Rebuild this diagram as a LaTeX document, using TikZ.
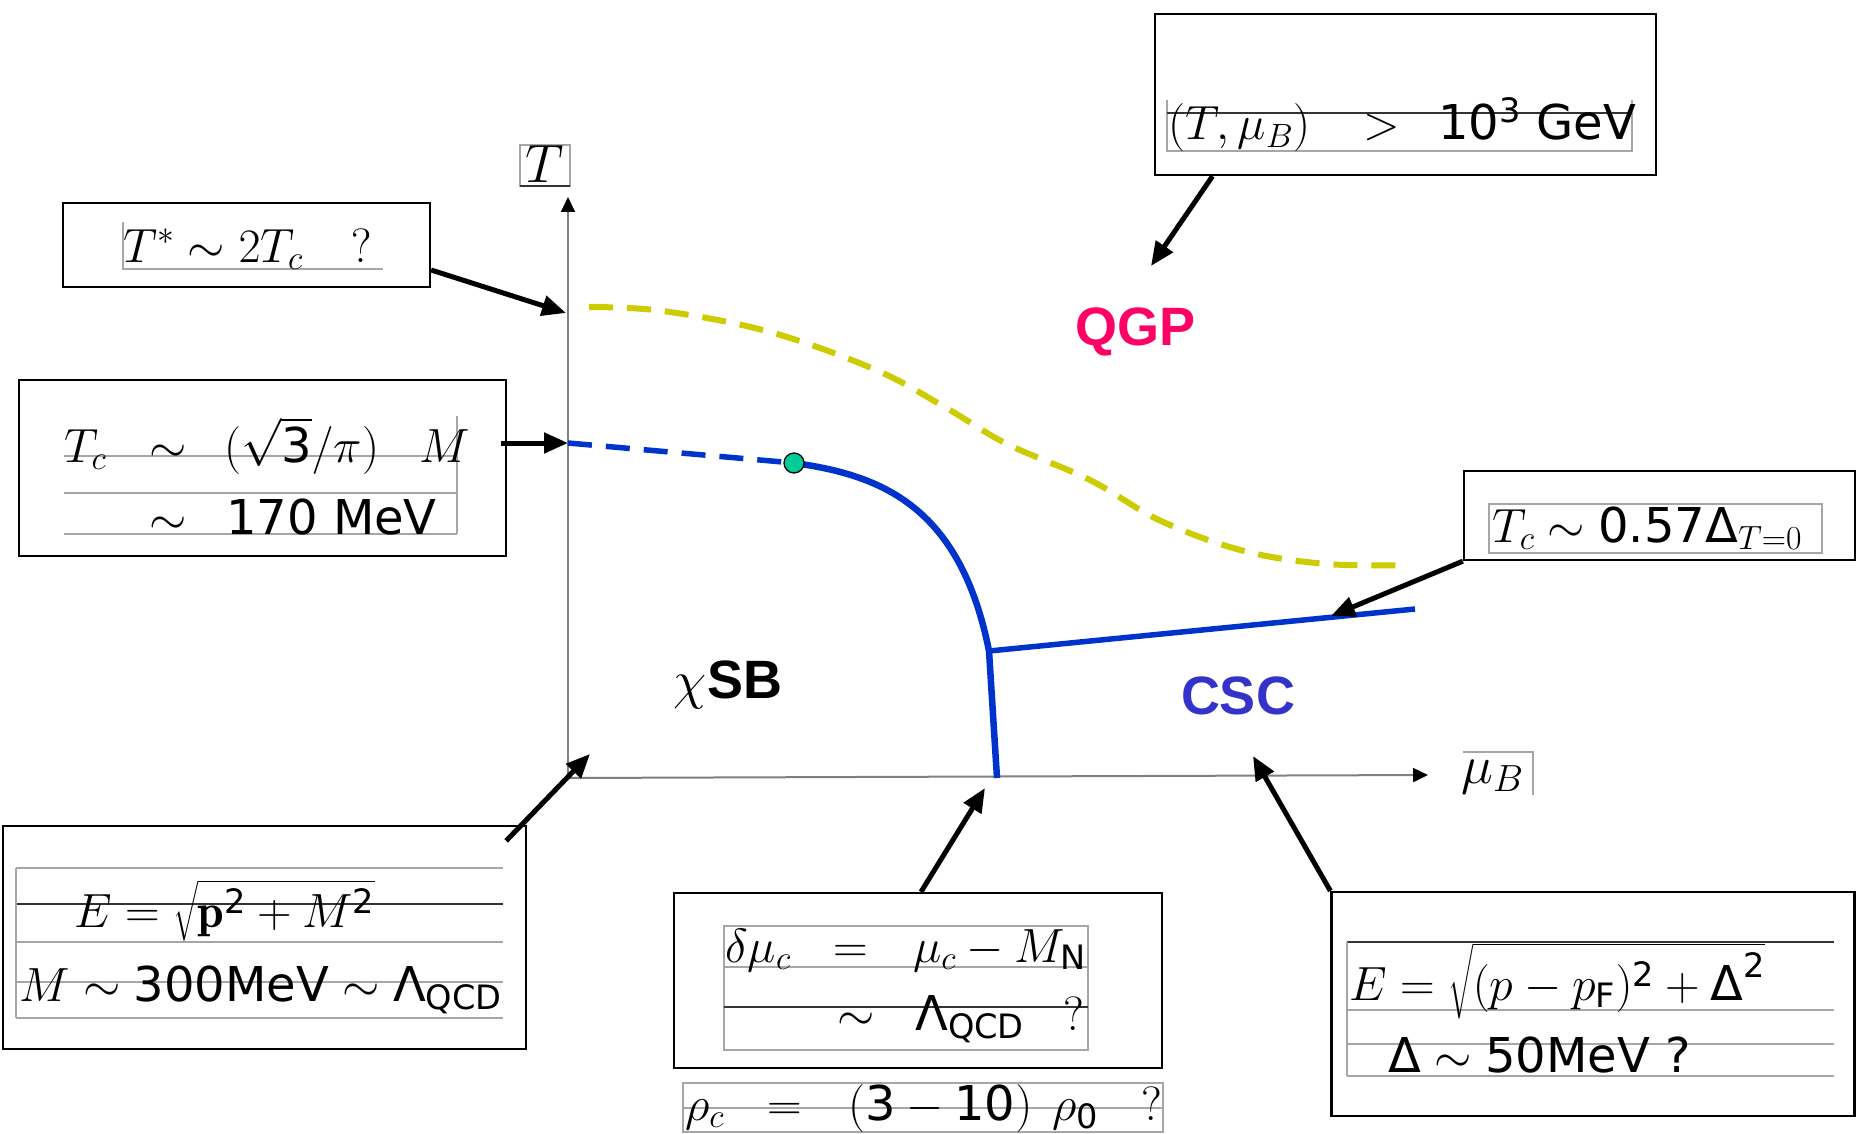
\RequirePackage{fix-cm}
\documentclass[tikz,border=0pt]{standalone}
\usepackage{amsmath}
\usepackage{fontspec}
\setsansfont{DejaVu Sans}
\newfontfamily\regionfam{Liberation Sans}
\usetikzlibrary{arrows.meta}
\definecolor{qgpc}{RGB}{255,0,102}
\definecolor{cscc}{RGB}{51,51,204}
\definecolor{lineblue}{RGB}{0,51,204}
\definecolor{yel}{RGB}{204,204,0}
\definecolor{dotg}{RGB}{0,204,153}
\newcommand\fsz{\fontsize{48}{58}\selectfont}
\newcommand\regfont{\regionfam\bfseries\fontsize{54}{64}\selectfont}
\newcommand\axfont{\fontsize{54}{64}\selectfont}
\begin{document}
\begin{tikzpicture}[x=1pt,y=-1pt,
  box/.style={draw=black, line width=2.3pt, inner sep=0pt},
  txt/.style={inner sep=0pt, font=\fsz, anchor=base west},
  gl/.style={draw=black!35, line width=1.3pt},
  dl/.style={draw=black!80, line width=1.8pt},
  callout/.style={draw=black, line width=5pt, -{Triangle[length=24pt,width=20pt]}},
  axisline/.style={draw=black!50, line width=2pt, -{Triangle[length=15pt,width=14pt,color=black]}},
  region/.style={inner sep=0pt, font=\regfont},
  blueline/.style={draw=lineblue, line width=6.5pt},
  yelline/.style={draw=yel, line width=6pt, dash pattern=on 24pt off 14pt}]
\fill[white] (0,0) rectangle (1857,1134);
\useasboundingbox (0,0) rectangle (1857,1134);

% ---------- axes ----------
\coordinate (origin) at (568,778);
\coordinate (ttop) at (568,197);
\coordinate (mtop) at (1428,775);
\draw[axisline] (origin) -- (ttop);
\draw[axisline] (origin) -- (mtop);
% T label
\draw[gl] (520,145) rectangle (570,186);
\draw[dl] (520,186) -- (570,186);
\node[inner sep=0pt, font=\axfont, anchor=base] (tlab) at (545,183) {$T$};
% mu_B label
\draw[gl] (1463,752) -- (1533,752) -- (1533,795);
\node[inner sep=0pt, font=\axfont, anchor=base west] (mlab) at (1461,783) {$\mu_B$};

% ---------- curves ----------
\coordinate (tcpt) at (568,443);
\coordinate (cep) at (794,463);
\coordinate (junc) at (989,651);
\coordinate (mu0) at (997,778);
\coordinate (cscend) at (1415,609);
\draw[yelline] plot[smooth, tension=0.6] coordinates {(589,307) (663,311) (770,332) (876,370) (948,409) (1007,444) (1090,480) (1161,521) (1244,551) (1327,564) (1409,565)};
\draw[draw=lineblue, line width=5.5pt, dash pattern=on 24pt off 14pt] (tcpt) -- (cep);
\draw[blueline] (cep) .. controls (880,475) and (960,505) .. (junc) -- (mu0);
\draw[draw=lineblue, line width=5.5pt] (junc) -- (cscend);
\node[circle, draw=black, fill=dotg, line width=1.3pt, minimum size=20pt, inner sep=0pt] (cepdot) at (cep) {};

% ---------- region labels ----------
\node[region, text=qgpc] (qgp) at (1135,332) {QGP};
\node[region, text=black] (csb) at (728,685) {$\chi$SB};
\node[region, text=cscc] (csc) at (1238,696) {CSC};

% ---------- top right box ----------
\node[box, minimum width=501pt, minimum height=161pt] (qgpbox) at (1405.5,94.5) {};
\draw[gl] (1167,100) -- (1167,151) -- (1632,151) -- (1632,100);
\draw[dl] (1167,113) -- (1632,113);
\node[txt] (qa) at (1168,140) {$(T,\mu_B)$};
\node[txt] (qb) at (1363,140) {$>$};
\node[txt] (qc) at (1438,140) {\textsf{10\textsuperscript{3} GeV}};
\coordinate (qgpt) at (1151,266);
\draw[callout] ([xshift=-193pt]qgpbox.south) -- (qgpt);

% ---------- T* box ----------
\node[box, minimum width=367pt, minimum height=84pt] (tstar) at (246.5,245) {};
\draw[gl] (123,222) -- (123,269) -- (383,269);
\node[txt] (ts) at (123,262) {$T^*\sim 2T_c\quad ?$};
\coordinate (tstarpt) at (566,313);
\draw[callout] ([yshift=-25pt]tstar.east) -- (tstarpt);

% ---------- Tc box ----------
\node[box, minimum width=487pt, minimum height=176pt] (tcbox) at (262.5,468) {};
\draw[gl] (64,456) -- (457,456);
\draw[gl] (64,493) -- (457,493);
\draw[gl] (64,534) -- (457,534);
\draw[gl] (457,416) -- (457,534);
\node[txt] (tc1) at (64,462) {$T_c$};
\node[txt] (tc2) at (149,462) {$\sim$};
\node[txt] (tc3) at (224,462) {$(\sqrt{\textsf{3}}/\pi)$};
\node[txt] (tc4) at (419,462) {$M$};
\node[txt] (tc5) at (149,534) {$\sim$};
\node[txt] (tc6) at (226,534) {\textsf{170 MeV}};
\draw[callout] ([xshift=-6pt,yshift=25pt]tcbox.east) -- (tcpt);

% ---------- Tc CSC box ----------
\node[box, minimum width=391pt, minimum height=89pt] (tcsc) at (1659.5,515.5) {};
\draw[gl] (1489,504) rectangle (1822,553);
\node[txt] (tcs) at (1492,542) {$T_c\sim\textsf{0.57Δ}_{T=0}$};
\coordinate (tcscpt) at (1331,616);
\draw[callout] (tcsc.south west) -- (tcscpt);

% ---------- bottom left box ----------
\node[box, minimum width=523pt, minimum height=223pt] (ebl) at (264.5,937.5) {};
\draw[gl] (16,868) -- (503,868);
\draw[dl] (16,904) -- (503,904);
\draw[gl] (16,942) -- (503,942);
\draw[gl] (16,982) -- (503,982);
\draw[gl] (16,1018) -- (503,1018);
\draw[gl] (16,868) -- (16,1018);
\node[txt] (e1) at (74,927) {$E=\sqrt{\mathbf{p}^{\textsf{2}}+M^{\textsf{2}}}$};
\node[txt] (e2) at (19,1001) {$M\sim\textsf{300MeV}\sim\textsf{Λ}_{\textsf{QCD}}$};
\coordinate (originpt) at (590,754);
\draw[callout] ([xshift=-21pt,yshift=-16pt]ebl.north east) -- (originpt);

% ---------- bottom center box ----------
\node[box, minimum width=488pt, minimum height=175pt] (dmu) at (918,980.5) {};
\draw[gl] (724,926) rectangle (1088,1050);
\draw[gl] (724,967) -- (1088,967);
\draw[dl] (724,1007) -- (1088,1007);
\node[txt] (d1) at (725,962) {$\delta\mu_c$};
\node[txt] (d2) at (833,962) {$=$};
\node[txt] (d3) at (913,962) {$\mu_c-M_{\textsf{N}}$};
\node[txt] (d4) at (837,1030) {$\sim$};
\node[txt] (d5) at (915,1030) {$\textsf{Λ}_{\textsf{QCD}}$};
\node[txt] (d6) at (1063,1030) {?};
\coordinate (mucpt) at (985,788);
\draw[callout] ([xshift=3pt]dmu.north) -- (mucpt);

% ---------- rho line ----------
\draw[gl] (683,1083) rectangle (1163,1132);
\draw[gl] (683,1108) -- (1163,1108);
\node[txt] (r1) at (685,1120) {$\rho_c$};
\node[txt] (r2) at (767,1120) {$=$};
\node[txt] (r3) at (848,1120) {$(\textsf{3}-\textsf{10})$};
\node[txt] (r4) at (1052,1120) {$\rho_{\textsf{0}}$};
\node[txt] (r5) at (1141,1120) {?};

% ---------- bottom right box ----------
\node[box, minimum width=523pt, minimum height=224pt] (ecsc) at (1593,1004) {};
\draw[dl] (1347,942) -- (1834,942);
\draw[gl] (1347,1010) -- (1834,1010);
\draw[gl] (1347,1044) -- (1834,1044);
\draw[gl] (1347,1076) -- (1834,1076);
\draw[gl] (1347,942) -- (1347,1076);
\node[txt] (f1) at (1349,1000) {$E=\sqrt{(p-p_{\textsf{F}})^{\textsf{2}}+\textsf{Δ}^{\textsf{2}}}$};
\node[txt] (f2) at (1388,1072) {$\textsf{Δ}\sim\textsf{50MeV ?}$};
\coordinate (cscpt) at (1253,756);
\draw[callout] (ecsc.north west) -- (cscpt);
\end{tikzpicture}
\end{document}
